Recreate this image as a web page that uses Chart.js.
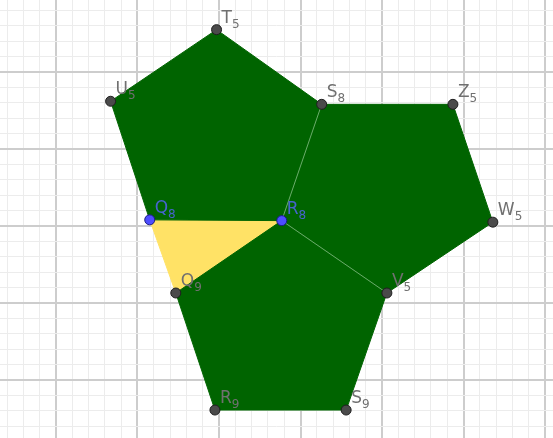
<!DOCTYPE html>
<html>
<head>
<meta charset="utf-8">
<script src="https://cdn.jsdelivr.net/npm/chart.js@4/dist/chart.umd.min.js"></script>
<style>
html,body{margin:0;padding:0;background:#fff;overflow:hidden;}
#wrap{width:553px;height:438px;}
</style>
</head>
<body>
<div id="wrap"><canvas id="c" width="553" height="438"></canvas></div>
<script>
// ---- data (grid units: one major square = 1) ----
const vertexNames = ['T5','U5','Q8','R8','S8','Z5','W5','V5','Q9','R9','S9'];
const vertexX     = [-0.03,-1.33,-0.85, 0.77, 1.26, 2.87, 3.36, 2.06,-0.53,-0.05, 1.56];
const vertexY     = [ 2.55, 1.62, 0.08, 0.07, 1.58, 1.58, 0.05,-0.87,-0.87,-2.39,-2.39];
const bluePoints  = ['Q8','R8'];
const pentagonTop    = ['T5','U5','Q8','R8','S8'];
const pentagonRight  = ['S8','Z5','W5','V5','R8'];
const pentagonBottom = ['R8','V5','S9','R9','Q9'];
const triangle       = ['Q8','R8','Q9'];
const innerEdges     = [['R8','S8'],['R8','V5']];

const xRange = [-2.687, 4.098];
const yRange = [-2.753, 2.935];

// ---- helpers ----
const pt = n => { const i = vertexNames.indexOf(n); return {x: vertexX[i], y: vertexY[i]}; };
const closed = names => names.concat([names[0]]).map(pt);

const GREEN = '#006400';
const YELLOW = '#ffe266';

const polyDS = (names, color, order) => ({
  data: closed(names), showLine: true, fill: 'shape', tension: 0,
  backgroundColor: color, borderColor: color, borderWidth: 1,
  pointRadius: 0, order: order
});

const datasets = [
  polyDS(triangle, YELLOW, 4),
  polyDS(pentagonTop, GREEN, 3),
  polyDS(pentagonRight, GREEN, 3),
  polyDS(pentagonBottom, GREEN, 3),
  ...innerEdges.map(e => ({
    data: e.map(pt), showLine: true, fill: false, borderColor: 'rgba(140,195,140,0.75)',
    borderWidth: 1, pointRadius: 0, order: 2
  })),
  {
    data: vertexNames.map(pt), showLine: false, order: 1,
    pointRadius: 5, pointHoverRadius: 5, pointBorderWidth: 1,
    pointBackgroundColor: vertexNames.map(n => bluePoints.includes(n) ? '#4d4dff' : '#4a4a4a'),
    pointBorderColor: vertexNames.map(n => bluePoints.includes(n) ? '#1a1a80' : '#1e1e1e')
  }
];

function gridTicks(scale, lo, hi) {
  const t = [];
  for (let k = Math.ceil(lo / 0.2); k * 0.2 <= hi; k++) t.push({value: +(k * 0.2).toFixed(6)});
  scale.ticks = t;
}
const isMajor = v => Math.abs(v - Math.round(v)) < 1e-6;
const gridColor = ctx => isMajor(ctx.tick.value) ? '#cdcdcd' : '#ececec';
const gridWidth = ctx => isMajor(ctx.tick.value) ? 2 : 1;

const labelPlugin = {
  id: 'vlabels',
  afterDatasetsDraw(chart) {
    const c = chart.ctx, xs = chart.scales.x, ys = chart.scales.y;
    c.save();
    vertexNames.forEach((n, i) => {
      const px = xs.getPixelForValue(vertexX[i]);
      const py = ys.getPixelForValue(vertexY[i]);
      const col = bluePoints.includes(n) ? 'rgb(70,100,205)' : '#707070';
      c.fillStyle = col;
      c.textBaseline = 'alphabetic';
      c.textAlign = 'left';
      c.font = '17px "DejaVu Sans", sans-serif';
      const main = n[0];
      c.fillText(main, px + 5, py - 7);
      const w = c.measureText(main).width;
      c.font = '12px "DejaVu Sans", sans-serif';
      c.fillText(n.slice(1), px + 5 + w, py - 2);
    });
    c.restore();
  }
};

new Chart(document.getElementById('c'), {
  type: 'scatter',
  data: { datasets },
  options: {
    responsive: false, animation: false,
    layout: { padding: 0, autoPadding: false },
    plugins: { legend: {display: false}, tooltip: {enabled: false} },
    scales: {
      x: {
        type: 'linear', min: xRange[0], max: xRange[1],
        afterBuildTicks: s => gridTicks(s, xRange[0], xRange[1]),
        ticks: {display: false},
        border: {display: false},
        grid: {color: gridColor, lineWidth: gridWidth, drawTicks: false}
      },
      y: {
        type: 'linear', min: yRange[0], max: yRange[1],
        afterBuildTicks: s => gridTicks(s, yRange[0], yRange[1]),
        ticks: {display: false},
        border: {display: false},
        grid: {color: gridColor, lineWidth: gridWidth, drawTicks: false}
      }
    }
  },
  plugins: [labelPlugin]
});
</script>
</body>
</html>
